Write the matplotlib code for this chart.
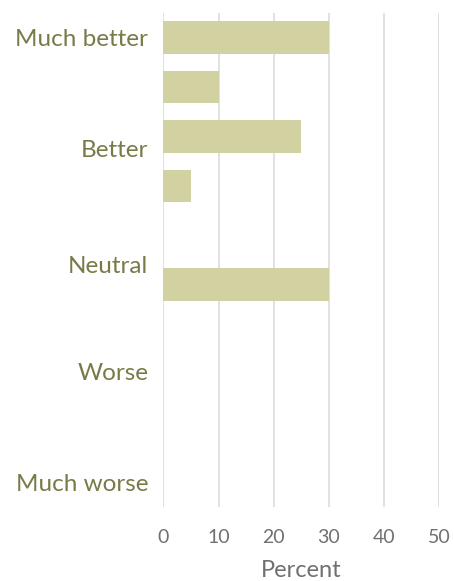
import matplotlib
matplotlib.use("Agg")
import matplotlib.pyplot as plt
import numpy as np

# one bar per slot, top to bottom
values = [30, 10, 25, 5, 0, 30, 0, 0, 0, 0]
categories = ["Much better", "Better", "Neutral", "Worse", "Much worse"]
category_pos = [0, 2.25, 4.6, 6.75, 9]
xticks = [0, 10, 20, 30, 40, 50]

plt.rcParams['font.family'] = ['Lato', 'DejaVu Sans']

fig = plt.figure(figsize=(4.54, 5.81), dpi=100)
ax = fig.add_axes([0.36, 0.1274, 0.607, 0.8502])

slots = np.arange(len(values))
ax.barh(slots, values, height=0.66, color="#d2d1a1", zorder=2)

ax.set_xlim(0, 50)
ax.set_ylim(len(values) - 0.5, -0.5)
ax.set_xticks(xticks)
ax.set_xticklabels([str(t) for t in xticks], fontsize=14, color="#707070")
ax.set_yticks(category_pos)
ax.set_yticklabels(categories, fontsize=17.5, color="#7a7a48")
ax.tick_params(axis="both", length=0)
ax.tick_params(axis="y", pad=11)
ax.tick_params(axis="x", pad=16)
ax.set_xlabel("Percent", fontsize=17, color="#707070", labelpad=10)

ax.grid(axis="x", color="#dcdcdc", linewidth=1.2, zorder=0)
ax.grid(axis="y", visible=False)
for s in ax.spines.values():
    s.set_visible(False)

plt.savefig("out.png", dpi=100)
